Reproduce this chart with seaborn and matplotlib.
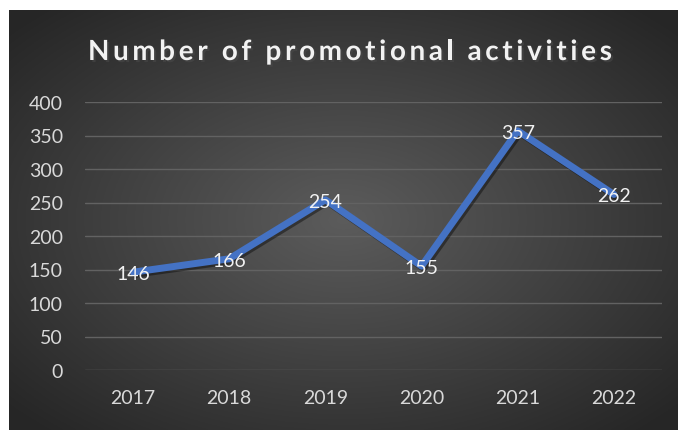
import numpy as np
import pandas as pd
import seaborn as sns
from matplotlib import pyplot as plt
import matplotlib.patheffects as pe
from matplotlib.font_manager import FontProperties

# chart data
years = ['2017', '2018', '2019', '2020', '2021', '2022']
activities = [146, 166, 254, 155, 357, 262]
yticks = [0, 50, 100, 150, 200, 250, 300, 350, 400]
title = 'Number of promotional activities'

df = pd.DataFrame({'year': years, 'count': activities})

sns.set_style('dark')
plt.rcParams['font.family'] = ['Lato', 'DejaVu Sans']

fig = plt.figure(figsize=(6.78, 4.31), dpi=100)
fig.patch.set_facecolor('white')

# dark panel with radial gradient
bg = fig.add_axes([9 / 678, 0, 1 - 9 / 678, 1 - 11 / 431])
gx, gy = np.meshgrid(np.linspace(-1, 1, 400), np.linspace(-1, 1, 260))
r = np.clip(np.sqrt(gx ** 2 + gy ** 2) / 1.35, 0, 1)
shade = 0.36 - 0.21 * r
bg.imshow(np.dstack([shade, shade, shade]), aspect='auto', extent=[0, 1, 0, 1])
bg.set_axis_off()

ax = fig.add_axes([85 / 678, 1 - 371 / 431, (662 - 85) / 678, (371 - 103) / 431])
ax.set_facecolor('none')
sns.lineplot(data=df, x='year', y='count', ax=ax, color='#4472C4', linewidth=5,
             sort=False, solid_capstyle='round',
             path_effects=[pe.SimpleLineShadow(offset=(1.5, -1.5), alpha=0.4), pe.Normal()])

for i, v in enumerate(activities):
    ax.text(i, v, str(v), ha='center', va='center_baseline', color='#F2F2F2', fontsize=14)

ax.set_xlim(-0.5, len(years) - 0.5)
ax.set_ylim(0, 400)
ax.set_yticks(yticks)
ax.grid(axis='y', color='#626262', linewidth=1)
ax.grid(axis='x', visible=False)
ax.tick_params(axis='y', colors='#D9D9D9', labelsize=14, pad=16, length=0)
ax.tick_params(axis='x', colors='#D9D9D9', labelsize=14, pad=14, length=0)
ax.set_xlabel('')
ax.set_ylabel('')
for s in ax.spines.values():
    s.set_visible(False)

# letter-spaced title, drawn char by char
fp = FontProperties(family=['Lato'], weight='bold', size=20)
rend = fig.canvas.get_renderer()
full_w = rend.get_text_width_height_descent(title, fp, ismath=False)[0]
target_left, target_right = 88, 612
gap = (target_right - target_left - full_w) / (len(title) - 1)
ty = 1 - 53 / 431
for i, ch in enumerate(title):
    if ch == ' ':
        continue
    pre_w = rend.get_text_width_height_descent(title[:i] + '|', fp, ismath=False)[0] \
        - rend.get_text_width_height_descent('|', fp, ismath=False)[0]
    x = target_left + pre_w + i * gap
    fig.text(x / 678, ty, ch, ha='left', va='center', color='#F2F2F2',
             fontproperties=fp,
             path_effects=[pe.withSimplePatchShadow(offset=(1.5, -1.5), alpha=0.6)])

fig.savefig('out.png', dpi=100)
